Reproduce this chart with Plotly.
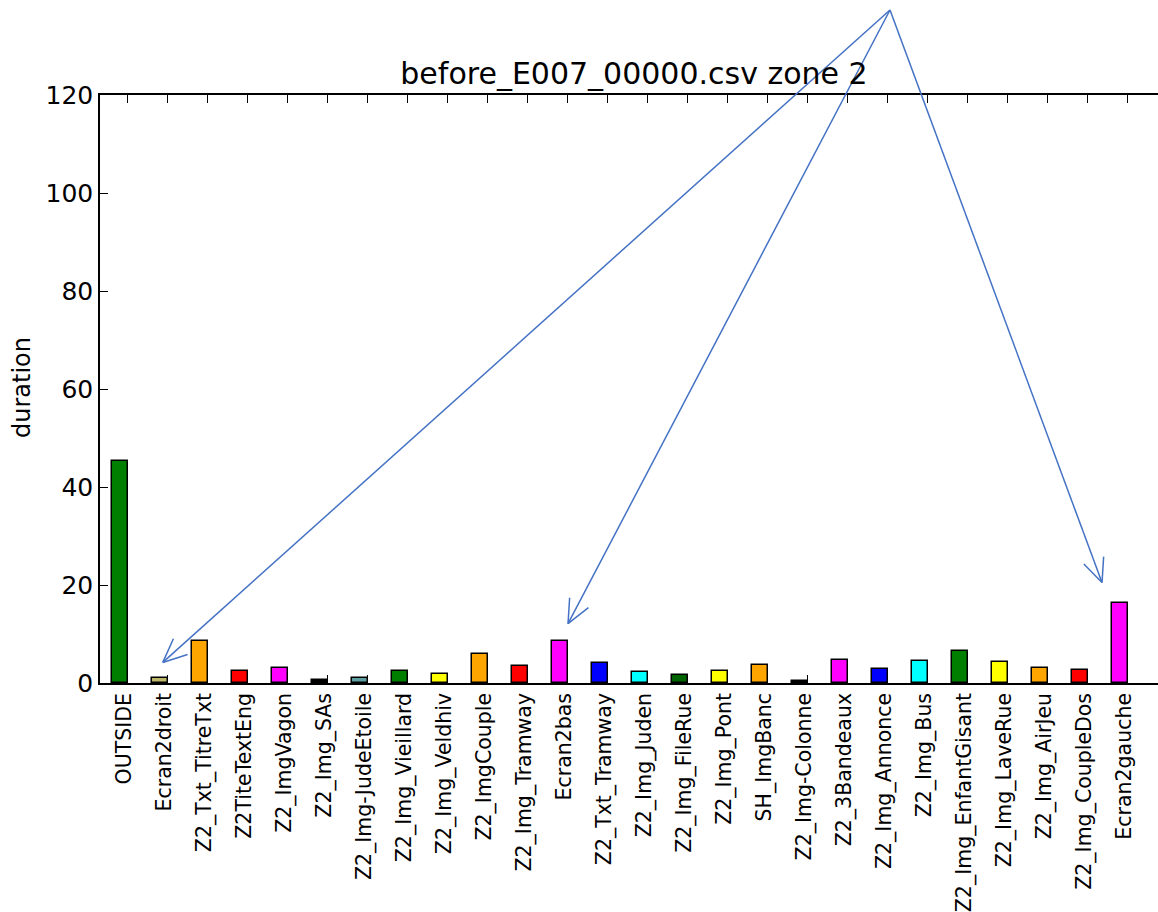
import math
import plotly.graph_objects as go

categories = ["OUTSIDE", "Ecran2droit", "Z2_Txt_TitreTxt", "Z2TiteTextEng", "Z2_ImgVagon",
              "Z2_Img_SAs", "Z2_Img-JudeEtoile", "Z2_Img_Vieillard", "Z2_Img_Veldhiv",
              "Z2_ImgCouple", "Z2_Img_Tramway", "Ecran2bas", "Z2_Txt_Tramway", "Z2_Img_Juden",
              "Z2_Img_FileRue", "Z2_Img_Pont", "SH_ImgBanc", "Z2_Img-Colonne", "Z2_3Bandeaux",
              "Z2_Img_Annonce", "Z2_Img_Bus", "Z2_Img_EnfantGisant", "Z2_Img_LaveRue",
              "Z2_Img_AirJeu", "Z2_Img_CoupleDos", "Ecran2gauche"]
durations = [45.4, 0.95, 8.6, 2.5, 3.1, 0.65, 1.0, 2.5, 1.9, 5.85, 3.45, 8.6, 4.05, 2.2,
             1.65, 2.5, 3.75, 0.5, 4.6, 2.8, 4.4, 6.5, 4.35, 3.1, 2.75, 16.3]
bar_colors = ["#007f00", "#bdb76b", "#ffa500", "#ff0000", "#ff00ff", "#000000", "#5f9ea0",
              "#007f00", "#ffff00", "#ffa500", "#ff0000", "#ff00ff", "#0000ff", "#00ffff",
              "#006400", "#ffff00", "#ffa500", "#000000", "#ff00ff", "#0000ff", "#00ffff",
              "#007f00", "#ffff00", "#ffa500", "#ff0000", "#ff00ff"]
y_ticks = [0, 20, 40, 60, 80, 100, 120]

# annotation arrows (tips in data coords, common tail in pixels)
arrow_tip_x = [1.26, 11.39, 24.74]
arrow_tip_y = [4.2, 12.1, 20.5]
arrow_tail_px = (890, 10)

W, H = 1158, 912
ML, MR, MT, MB = 100, 0, 95, 229
BAR_W = 0.38
x_range = [-0.31, 26.14]
y_range = [0, 120]

pos = list(range(len(categories)))

fig = go.Figure()
fig.add_trace(go.Bar(
    x=pos, y=durations, width=BAR_W, offset=0,
    marker=dict(color=bar_colors, line=dict(color="black", width=1.5)),
    showlegend=False,
))

font = "DejaVu Sans, Bitstream Vera Sans, sans-serif"

pw = W - ML - MR
ph = H - MT - MB

fig.update_layout(
    width=W, height=H,
    margin=dict(l=ML, r=MR, t=MT, b=MB, autoexpand=False),
    paper_bgcolor="white", plot_bgcolor="white",
    font=dict(family=font, color="black"),
    bargap=0,
    title=dict(text="before_E007_00000.csv zone 2", x=634 / W, xanchor="center",
               y=1 - 73 / H, yanchor="middle", font=dict(size=30, family=font, color="black")),
    xaxis=dict(
        range=x_range, autorange=False,
        tickmode="array", tickvals=[p + 0.3 for p in pos], ticktext=categories,
        tickangle=-90, tickfont=dict(size=20.5, family=font, color="black"),
        ticks="", showgrid=False, zeroline=False,
        showline=True, linecolor="black", linewidth=1.5, mirror="ticks",
        minor=dict(tickmode="array", tickvals=[p + BAR_W for p in pos], ticks="inside",
                   ticklen=8, tickcolor="black", tickwidth=1, showgrid=False),
        automargin=False,
    ),
    yaxis=dict(
        range=y_range, autorange=False,
        tickmode="array", tickvals=y_ticks, ticktext=[str(v) for v in y_ticks],
        tickfont=dict(size=25, family=font, color="black"),
        ticks="inside", ticklen=8, tickcolor="black", tickwidth=1,
        showgrid=False, zeroline=False,
        showline=True, linecolor="black", linewidth=1.5, mirror=False,
        automargin=False,
    ),
)

fig.add_annotation(text="duration", x=(22 - ML) / pw, y=(H - MB - 388) / ph,
                   xref="paper", yref="paper",
                   xanchor="center", yanchor="middle", textangle=-90, showarrow=False,
                   font=dict(size=24, family=font, color="black"))


def data_to_px(x, y):
    px = ML + (x - x_range[0]) / (x_range[1] - x_range[0]) * pw
    py = MT + (1 - (y - y_range[0]) / (y_range[1] - y_range[0])) * ph
    return px, py


def px_to_paper(px, py):
    return (px - ML) / pw, (H - MB - py) / ph


ARROW_COLOR = "#4472c4"
head_len = 26
head_ang = math.radians(24)
for tx, ty in zip(arrow_tip_x, arrow_tip_y):
    tip = data_to_px(tx, ty)
    tail = arrow_tail_px
    segs = [(tail, tip)]
    ang = math.atan2(tail[1] - tip[1], tail[0] - tip[0])
    for s in (-1, 1):
        a = ang + s * head_ang
        segs.append((tip, (tip[0] + head_len * math.cos(a), tip[1] + head_len * math.sin(a))))
    for p0, p1 in segs:
        x0, y0 = px_to_paper(*p0)
        x1, y1 = px_to_paper(*p1)
        fig.add_shape(type="line", xref="paper", yref="paper", x0=x0, y0=y0, x1=x1, y1=y1,
                      line=dict(color=ARROW_COLOR, width=1.5), layer="above")

fig.write_html("out.html", config={"displayModeBar": False},
               post_script="document.body.style.margin='0';")
